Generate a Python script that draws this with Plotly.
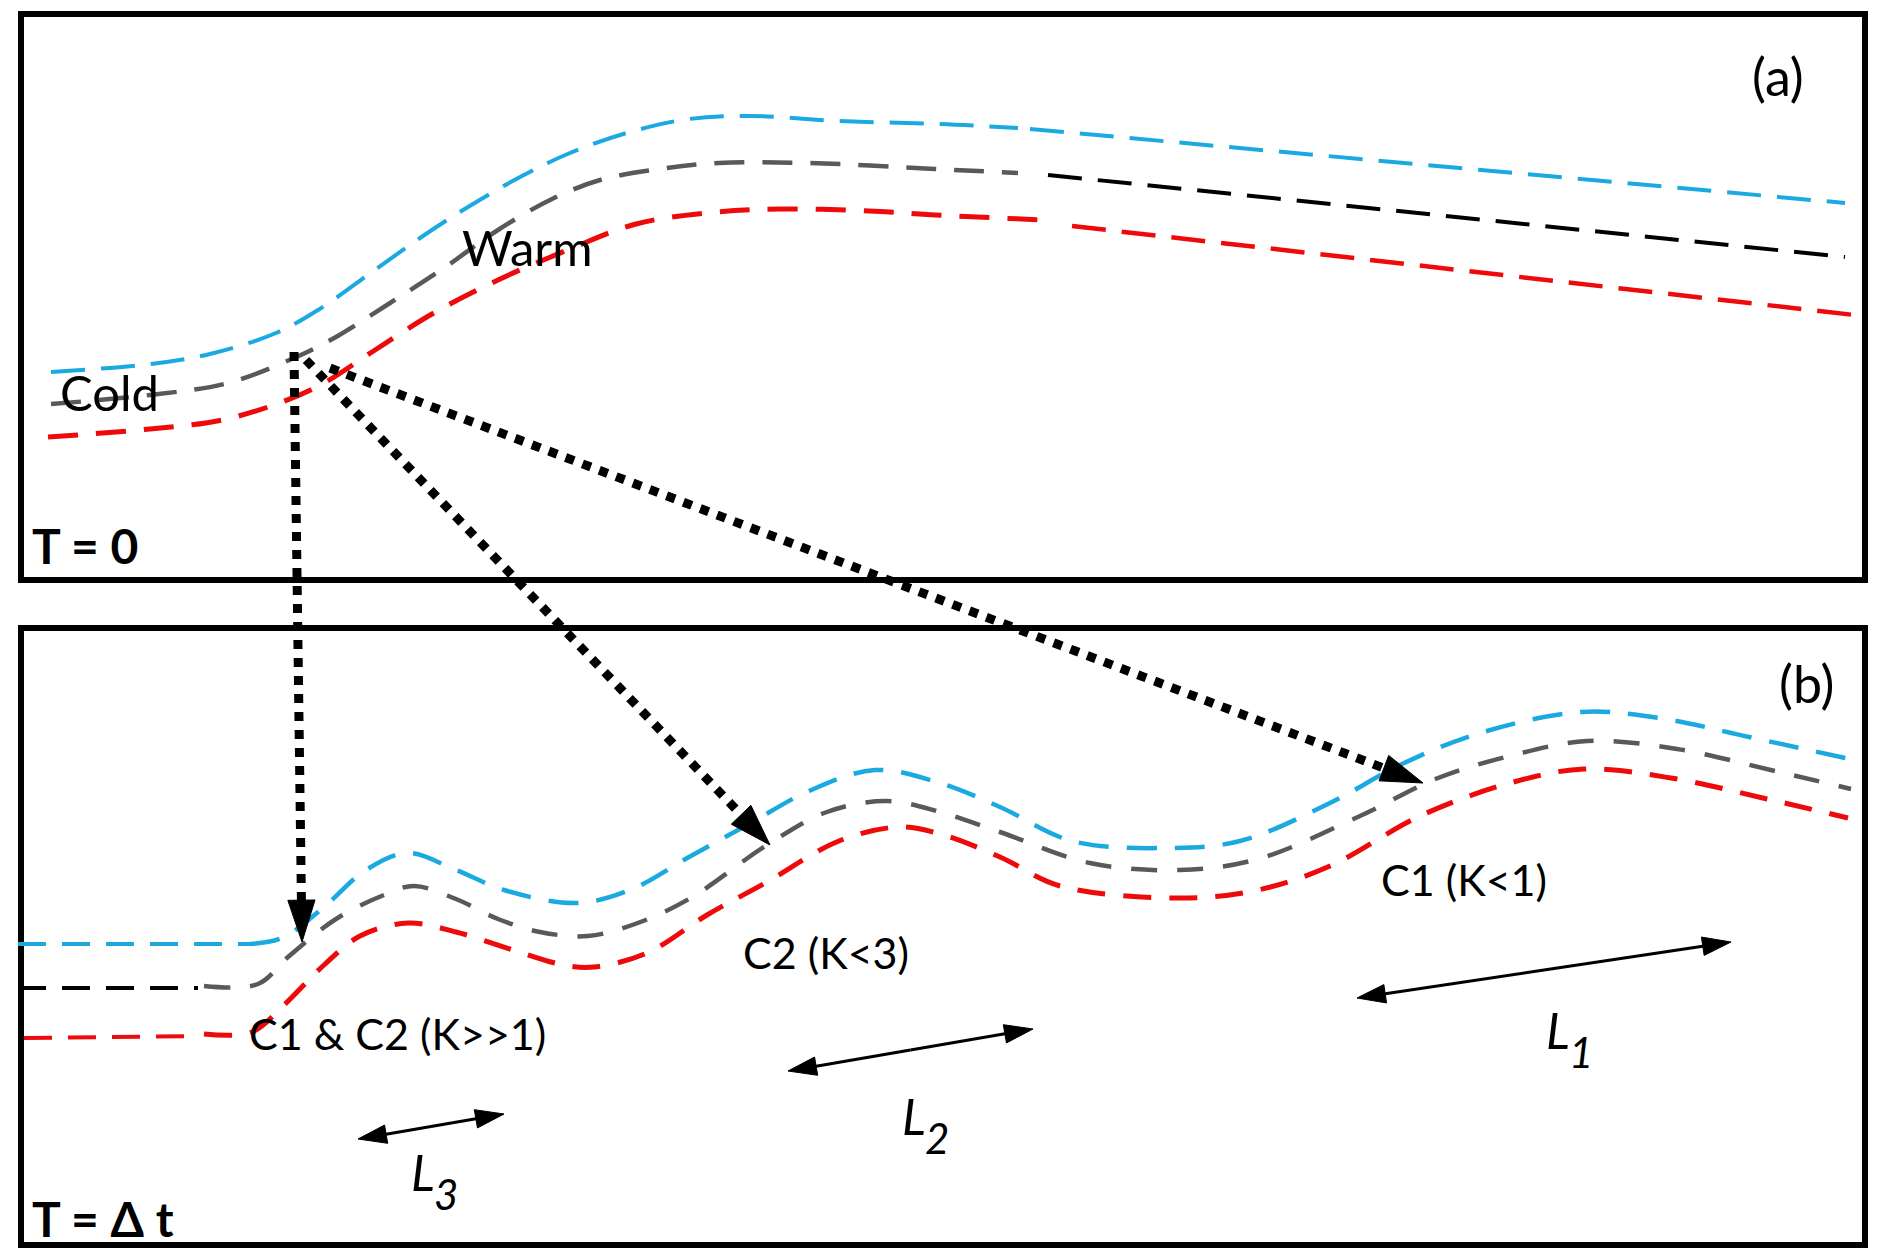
import plotly.graph_objects as go

# ---------------- data (image-space units: x to the right, y downward) ----------------
# Panel (a), T = 0
a_blue_x = [51, 150, 210, 276, 318, 372, 420, 468, 522, 570, 630, 689, 749, 839, 940, 1018]
a_blue_y = [372, 364, 354, 333, 310, 272, 238, 207, 176, 153, 132, 119, 116, 121, 124, 128]
a_blue2_x = [1030, 1845]
a_blue2_y = [129, 203]

a_gray_x = [51, 150, 228, 294, 336, 390, 444, 498, 552, 600, 660, 719, 809, 935, 1018]
a_gray_y = [404, 395, 383, 358, 337, 303, 268, 230, 199, 180, 169, 163, 163, 169, 173]
a_black_x = [1048, 1845]
a_black_y = [175, 257]

a_red_x = [48, 150, 222, 282, 324, 372, 432, 498, 570, 636, 707, 779, 869, 935, 1045]
a_red_y = [437, 429, 420, 402, 383, 352, 314, 280, 249, 224, 213, 209, 211, 215, 220]
a_red2_x = [1072, 1863]
a_red2_y = [226, 316]

# Panel (b), T = Δt
b_blue_flat_x = [18, 250]
b_blue_flat_y = [944, 944]
b_blue_x = [250, 282, 324, 366, 408, 456, 504, 576, 630, 689, 749, 809, 875, 940, 1000,
            1072, 1168, 1240, 1330, 1402, 1480, 1581, 1659, 1749, 1854]
b_blue_y = [944, 938, 907, 870, 853, 870, 890, 903, 890, 857, 824, 791, 770, 783, 807,
            841, 848, 841, 803, 764, 733, 712, 718, 737, 760]

b_black_flat_x = [18, 198]
b_black_flat_y = [988, 988]
b_gray_x = [204, 258, 288, 336, 384, 414, 456, 498, 540, 588, 635, 689, 767, 827, 887, 940,
            1000, 1090, 1180, 1258, 1360, 1438, 1510, 1587, 1677, 1779, 1851]
b_gray_y = [986, 984, 957, 919, 895, 886, 899, 919, 932, 936, 924, 899, 845, 812, 801, 812,
            832, 863, 870, 859, 816, 778, 756, 741, 749, 772, 789]

b_red_flat_x = [24, 198]
b_red_flat_y = [1038, 1036]
b_red_x = [204, 252, 282, 324, 360, 408, 456, 510, 564, 594, 647, 707, 767, 839, 899, 940,
           1000, 1060, 1180, 1258, 1330, 1420, 1510, 1584, 1671, 1767, 1848]
b_red_y = [1034, 1032, 1007, 965, 936, 923, 932, 949, 965, 967, 953, 915, 882, 841, 827, 834,
           857, 886, 898, 890, 866, 816, 783, 769, 778, 799, 818]

# dotted mapping arrows (tail -> tip)
map_tail_x = [294, 306, 330]
map_tail_y = [352, 360, 368]
map_tip_x = [302, 770, 1423]
map_tip_y = [942, 845, 783]

# wavelength double arrows (end 0 <-> end 1)
len_x0 = [358, 788, 1357]
len_y0 = [1139, 1071, 998]
len_x1 = [504, 1033, 1731]
len_y1 = [1114, 1029, 942]
len_sub = ["3", "2", "1"]
len_L_x = [423, 914, 1558]
len_L_y = [1172, 1116, 1030]

# text labels
text_labels = ["Cold", "Warm", "(a)", "(b)", "C1 &amp; C2 (K&gt;&gt;1)", "C2 (K&lt;3)", "C1 (K&lt;1)"]
text_x = [58, 460, 1750, 1777, 247, 741, 1379]
text_y = [392, 247, 76, 683, 1033, 952, 879]
text_size = [49, 49, 52, 52, 43, 43, 43]
bold_labels = ["T = 0", "T = Δ t"]
bold_x = [30, 30]
bold_y = [545, 1218]

# ---------------- styles ----------------
BLUE = "#1BA9E1"
GRAY = "#595959"
RED = "#EE0A0A"
BLACK = "#000000"
FONT = "Lato, Open Sans, sans-serif"

fig = go.Figure()


def add_line(x, y, color, width, dash, shape="spline"):
    fig.add_trace(go.Scatter(
        x=x, y=y, mode="lines",
        line=dict(color=color, width=width, dash=dash, shape=shape, smoothing=1.0),
        hoverinfo="skip", showlegend=False))


def add_arrow(x, y, width, dash, head):
    fig.add_trace(go.Scatter(
        x=x, y=y, mode="lines+markers",
        line=dict(color=BLACK, width=width, dash=dash),
        marker=dict(symbol=["circle", "arrow"], size=[0, head], color=BLACK, opacity=1,
                    angleref="previous", line=dict(width=1, color=BLACK)),
        hoverinfo="skip", showlegend=False))


# panel (a)
add_line(a_blue_x, a_blue_y, BLUE, 4, "34px,16px")
add_line(a_blue2_x, a_blue2_y, BLUE, 4, "34px,16px", "linear")
add_line(a_gray_x, a_gray_y, GRAY, 4.5, "30px,18px")
add_line(a_black_x, a_black_y, BLACK, 4, "34px,16px", "linear")
add_line(a_red_x, a_red_y, RED, 5, "30px,18px")
add_line(a_red2_x, a_red2_y, RED, 4.5, "34px,16px", "linear")

# panel (b)
add_line(b_blue_flat_x, b_blue_flat_y, BLUE, 4, "28px,16px", "linear")
add_line(b_blue_x, b_blue_y, BLUE, 4.5, "30px,18px")
add_line(b_black_flat_x, b_black_flat_y, BLACK, 4, "28px,16px", "linear")
add_line(b_gray_x, b_gray_y, GRAY, 4.5, "26px,20px")
add_line(b_red_flat_x, b_red_flat_y, RED, 4, "28px,16px", "linear")
add_line(b_red_x, b_red_y, RED, 5, "28px,18px")

# dotted arrows
for tx, ty, hx, hy in zip(map_tail_x, map_tail_y, map_tip_x, map_tip_y):
    add_arrow([tx, hx], [ty, hy], 9, "dot", 44)

# double arrows: drawn as two halves from the midpoint out to each end
for x0, y0, x1, y1 in zip(len_x0, len_y0, len_x1, len_y1):
    mx, my = (x0 + x1) / 2, (y0 + y1) / 2
    add_arrow([mx, x1], [my, y1], 3, "solid", 30)
    add_arrow([mx, x0], [my, y0], 3, "solid", 30)

annotations = []
for s, x, y in zip(len_sub, len_L_x, len_L_y):
    annotations.append(dict(x=x, y=y, xref="x", yref="y", text="<i>L</i>", showarrow=False,
                            xanchor="center", yanchor="middle",
                            font=dict(family=FONT, size=50, color=BLACK)))
    annotations.append(dict(x=x + 23, y=y + 22, xref="x", yref="y", text="<i>" + s + "</i>",
                            showarrow=False, xanchor="center", yanchor="middle",
                            font=dict(family=FONT, size=42, color=BLACK)))

for t, x, y, s in zip(text_labels, text_x, text_y, text_size):
    annotations.append(dict(x=x, y=y, xref="x", yref="y", text=t, showarrow=False,
                            xanchor="left", yanchor="middle",
                            font=dict(family=FONT, size=s, color=BLACK)))

for t, x, y in zip(bold_labels, bold_x, bold_y):
    annotations.append(dict(x=x, y=y, xref="x", yref="y", text="<b>" + t + "</b>",
                            showarrow=False, xanchor="left", yanchor="middle",
                            font=dict(family=FONT, size=48, color=BLACK)))

shapes = [
    dict(type="rect", xref="x", yref="y", x0=21, x1=1865, y0=14, y1=580,
         line=dict(color=BLACK, width=6), layer="below"),
    dict(type="rect", xref="x", yref="y", x0=21, x1=1865, y0=628, y1=1245,
         line=dict(color=BLACK, width=6), layer="below"),
]

fig.update_layout(
    width=1880, height=1250,
    margin=dict(l=0, r=0, t=0, b=0),
    paper_bgcolor="white", plot_bgcolor="white",
    xaxis=dict(range=[0, 1880], visible=False, fixedrange=True),
    yaxis=dict(range=[1250, 0], visible=False, fixedrange=True),
    annotations=annotations, shapes=shapes, showlegend=False,
)

fig.write_html("out.html", config={"displayModeBar": False},
               post_script="document.body.style.margin='0px';")
